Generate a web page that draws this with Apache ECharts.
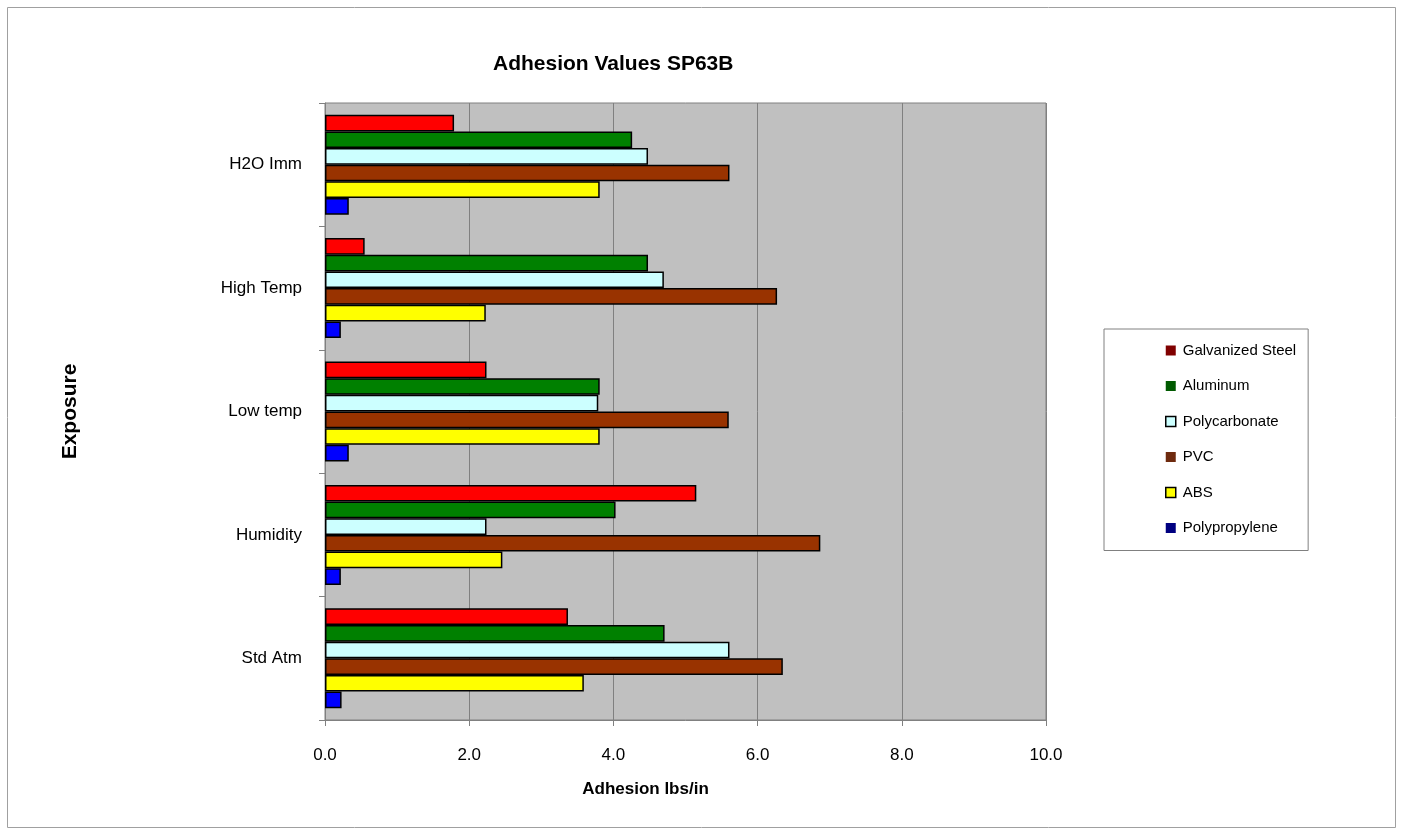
<!DOCTYPE html>
<html>
<head>
<meta charset="utf-8">
<script src="https://cdn.jsdelivr.net/npm/echarts@6/dist/echarts.min.js"></script>
<style>html,body{margin:0;padding:0;background:#fff;}#c{width:1403px;height:832px;}</style>
</head>
<body>
<div id="c"></div>
<script>
const categories = ['Std Atm', 'Humidity', 'Low temp', 'High Temp', 'H2O Imm'];
const galvanizedSteel = [3.37, 5.15, 2.24, 0.55, 1.79];
const aluminum = [4.71, 4.03, 3.81, 4.48, 4.26];
const polycarbonate = [5.61, 2.24, 3.79, 4.70, 4.48];
const pvc = [6.35, 6.87, 5.60, 6.27, 5.61];
const abs = [3.59, 2.46, 3.81, 2.23, 3.81];
const polypropylene = [0.23, 0.22, 0.33, 0.22, 0.33];
const xTicks = [0, 2, 4, 6, 8, 10];

const seriesDefs = [
  {name: 'Galvanized Steel', data: galvanizedSteel, color: '#FF0000', legendColor: '#800000', legendBorder: false},
  {name: 'Aluminum', data: aluminum, color: '#008000', legendColor: '#005a00', legendBorder: false},
  {name: 'Polycarbonate', data: polycarbonate, color: '#CCFFFF', legendColor: '#CCFFFF', legendBorder: true},
  {name: 'PVC', data: pvc, color: '#993300', legendColor: '#6e2a0e', legendBorder: false},
  {name: 'ABS', data: abs, color: '#FFFF00', legendColor: '#FFFF00', legendBorder: true},
  {name: 'Polypropylene', data: polypropylene, color: '#0000FF', legendColor: '#000080', legendBorder: false}
];

const chart = echarts.init(document.getElementById('c'), null, {renderer: 'canvas'});
const font = 'Liberation Sans, Arial, sans-serif';

const series = seriesDefs.map(s => ({
  name: s.name,
  type: 'bar',
  data: s.data,
  barGap: '0%',
  barCategoryGap: '19%',
  itemStyle: {color: s.color, borderColor: '#000', borderWidth: 1.5},
  emphasis: {disabled: true}
}));

chart.setOption({
  animation: false,
  textStyle: {fontFamily: font},
  title: {
    text: 'Adhesion Values SP63B',
    left: 488, top: 49,
    textStyle: {fontFamily: font, fontSize: 21, fontWeight: 'bold', color: '#000'}
  },
  graphic: [{
    type: 'rect',
    shape: {x: 7.5, y: 7.5, width: 1388, height: 820},
    style: {fill: 'none', stroke: '#a0a0a0', lineWidth: 1},
    silent: true
  }],
  legend: {
    orient: 'vertical',
    left: 1104, top: 329,
    padding: [14, 12, 15, 61],
    itemGap: 20.5,
    itemWidth: 10, itemHeight: 10,
    borderColor: '#808080', borderWidth: 1,
    backgroundColor: '#fff',
    icon: 'rect',
    textStyle: {fontFamily: font, fontSize: 15, color: '#000', padding: [0, 0, 0, 2]},
    data: seriesDefs.map(s => ({
      name: s.name,
      itemStyle: {color: s.legendColor, borderColor: '#000', borderWidth: s.legendBorder ? 1.5 : 0}
    }))
  },
  grid: {
    left: 325, right: 357, top: 103, bottom: 112,
    show: true, backgroundColor: '#C0C0C0', borderColor: '#808080', borderWidth: 1,
    containLabel: false
  },
  xAxis: {
    type: 'value',
    min: xTicks[0], max: xTicks[xTicks.length - 1], interval: 2,
    name: 'Adhesion lbs/in',
    nameLocation: 'middle', nameGap: 61,
    nameTextStyle: {fontFamily: font, fontSize: 17, fontWeight: 'bold', color: '#000', padding: [0, 80, 0, 0]},
    axisLine: {show: true, lineStyle: {color: '#808080', width: 1}},
    axisTick: {show: true, length: 6, lineStyle: {color: '#808080'}},
    axisLabel: {fontFamily: font, fontSize: 17, color: '#000', margin: 27, formatter: v => v.toFixed(1)},
    splitLine: {show: true, lineStyle: {color: '#808080', width: 1}}
  },
  yAxis: {
    type: 'category',
    data: categories,
    name: 'Exposure',
    nameLocation: 'middle', nameGap: 244, nameRotate: 90,
    nameTextStyle: {fontFamily: font, fontSize: 21, fontWeight: 'bold', color: '#000'},
    axisLine: {show: true, lineStyle: {color: '#808080', width: 1}},
    axisTick: {show: true, length: 6, lineStyle: {color: '#808080'}},
    axisLabel: {fontFamily: font, fontSize: 17, color: '#000', margin: 23},
    splitLine: {show: false}
  },
  series: series
});
</script>
</body>
</html>
